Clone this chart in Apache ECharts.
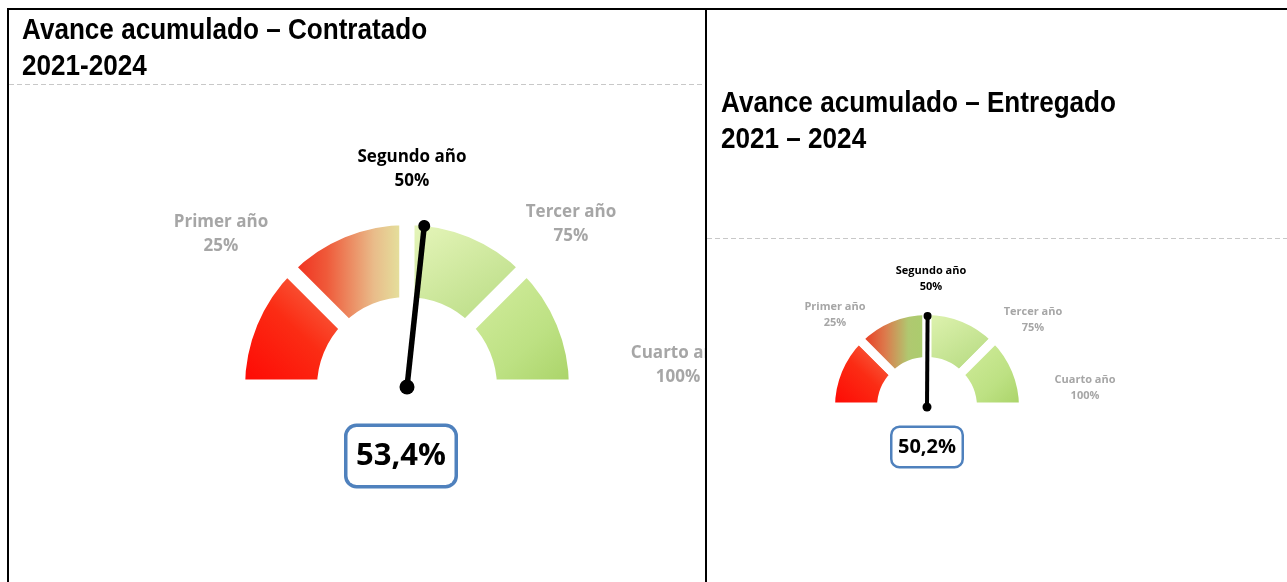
<!DOCTYPE html>
<html>
<head>
<meta charset="utf-8">
<title>Avance acumulado</title>
<script src="https://cdn.jsdelivr.net/npm/echarts@6/dist/echarts.min.js"></script>
<style>
    html, body { margin:0; padding:0; background:#fff; }
    body { width:1287px; height:582px; position:relative; overflow:hidden; }
    .ln { position:absolute; background:#000; }
    .panel { position:absolute; top:10px; height:572px; }
</style>
</head>
<body>
<!-- marco de la tabla -->
<div class="ln" style="left:7px; top:8px; width:1280px; height:2px;"></div>
<div class="ln" style="left:7px; top:8px; width:2px; height:574px;"></div>
<div class="ln" style="left:705px; top:8px; width:2px; height:574px;"></div>

<div id="chartLeft" class="panel" style="left:9px; width:696px;"></div>
<div id="chartRight" class="panel" style="left:707px; width:580px;"></div>

<script>
/* datos del velocimetro */
var tickNames = ['Primer año', 'Segundo año', 'Tercer año', 'Cuarto año'];
var tickPcts = [25, 50, 75, 100];
var segValues = [25, 25, 25, 25];      //cada año = 1/4
var avanceContratado = 53.4;
var avanceEntregado = 50.2;

var GRAY = '#a6a6a6';
var FONT = '"Open Sans", "Noto Sans", sans-serif';
var TITLE_FONT = '"Liberation Sans", Arial, sans-serif';

function toPct(v){
    return v.toFixed(1).replace('.', ',') + '%';
}

function grad(x, y, x2, y2, stops){
    var cs = [];
    for(var i = 0; i < stops.length; i++){
        cs.push({offset: stops[i][0], color: stops[i][1]});
    }
    return {type: 'linear', x: x, y: y, x2: x2, y2: y2, colorStops: cs};
}

function buildOption(c){
    var total = 0;
    var pieData = [];
    for(var i = 0; i < segValues.length; i++){
        total += segValues[i];
        pieData.push({name: tickNames[i], value: segValues[i], itemStyle: {color: c.colors[i]}});
    }
    //mitad inferior invisible
    pieData.push({name: '', value: total, itemStyle: {color: 'none', borderWidth: 0}});

    var graphic = [
        {
            type: 'line',
            shape: {x1: 0, y1: c.dashY, x2: c.width, y2: c.dashY},
            style: {stroke: '#c8c8c8', lineWidth: 1, lineDash: [5, 3]},
            silent: true
        },
        {
            // titulo (Arial Narrow en el original -> se estrecha)
            type: 'text',
            x: c.titlePos[0],
            y: c.titlePos[1],
            scaleX: 0.9,
            silent: true,
            style: {
                text: c.title,
                fontFamily: TITLE_FONT,
                fontWeight: 'bold',
                fontSize: 29,
                lineHeight: 36,
                verticalAlign: 'top',
                fill: '#000'
            }
        }
    ];
    for(var j = 0; j < tickNames.length; j++){
        graphic.push({
            type: 'text',
            x: c.labelPos[j][0],
            y: c.labelPos[j][1],
            silent: true,
            style: {
                text: tickNames[j] + '\n' + tickPcts[j] + '%',
                align: 'center',
                verticalAlign: 'middle',
                fontFamily: FONT,
                fontWeight: 'bold',
                fontSize: c.labelSize,
                lineHeight: c.labelLH,
                fill: tickPcts[j] === 50 ? '#000' : GRAY
            }
        });
    }

    return {
        animation: false,
        graphic: graphic,
        series: [
            {
                type: 'pie',
                silent: true,
                z: 1,
                center: c.center,
                radius: [c.rIn - c.gap / 2, c.rOut + c.gap / 2],
                startAngle: 180,
                label: {show: false},
                labelLine: {show: false},
                emphasis: {disabled: true},
                itemStyle: {borderColor: '#fff', borderWidth: c.gap},
                data: pieData
            },
            {
                // aguja
                type: 'gauge',
                silent: true,
                z: 5,
                center: c.center,
                radius: c.needleLen,
                startAngle: 180,
                endAngle: 0,
                min: 0,
                max: 100,
                splitNumber: 4,
                axisLine: {show: false},
                axisTick: {show: false},
                splitLine: {show: false},
                axisLabel: {show: false},
                title: {show: false},
                pointer: {icon: 'rect', width: c.needleW, length: '100%', itemStyle: {color: '#000'}},
                anchor: {show: true, showAbove: true, size: c.anchor, itemStyle: {color: '#000'}},
                detail: {
                    formatter: toPct,
                    offsetCenter: c.boxOffset,
                    width: c.box[0],
                    height: c.box[1],
                    lineHeight: c.box[1],
                    padding: 0,
                    backgroundColor: '#fff',
                    borderColor: '#4f81bd',
                    borderWidth: c.boxBorder,
                    borderRadius: c.boxRadius,
                    fontFamily: FONT,
                    fontWeight: 'bold',
                    fontSize: c.valueSize,
                    color: '#000'
                },
                data: [{value: c.value}]
            },
            {
                // punta de la aguja
                type: 'gauge',
                silent: true,
                z: 6,
                center: c.center,
                radius: c.needleLen,
                startAngle: 180,
                endAngle: 0,
                min: 0,
                max: 100,
                axisLine: {show: false},
                axisTick: {show: false},
                splitLine: {show: false},
                axisLabel: {show: false},
                title: {show: false},
                detail: {show: false},
                pointer: {icon: 'circle', width: c.tip, length: c.tip, offsetCenter: [0, -(c.needleLen - c.tip / 2)], itemStyle: {color: '#000'}},
                data: [{value: c.value}]
            }
        ]
    };
}

var leftColors = [
    grad(0, 1, 1, 0, [[0, '#ff0000'], [0.5, '#fb2c14'], [1, '#f48a62']]),
    grad(0, 0, 1, 0, [[0, '#f21a10'], [0.35, '#ef5a3a'], [0.7, '#e9bc8a'], [1, '#e2f3a6']]),
    grad(0, 0, 0.6, 1, [[0, '#ecf9c2'], [1, '#b9dc84']]),
    grad(0, 0, 1, 1, [[0, '#d9f0a6'], [0.6, '#bde183'], [1, '#a4cf60']])
];
var rightColors = [
    grad(0, 1, 1, 0, [[0, '#ff0000'], [0.5, '#fb2c14'], [1, '#f48a62']]),
    grad(0, 0, 1, 0, [[0, '#f0200f'], [0.4, '#dc7a4c'], [0.7, '#b0c870'], [1, '#a8cf6c']]),
    grad(0, 0, 0.6, 1, [[0, '#e4f6b6'], [1, '#b5da80']]),
    grad(0, 0, 1, 1, [[0, '#d6efa2'], [0.6, '#bde183'], [1, '#a4cf60']])
];

var chartL = echarts.init(document.getElementById('chartLeft'));
chartL.setOption(buildOption({
    width: 696,
    title: 'Avance acumulado – Contratado\n2021-2024',
    titlePos: [13, 3],
    dashY: 74.5,
    center: [398, 377],
    rIn: 90, rOut: 162, gap: 15,
    needleLen: 162, needleW: 5.5, anchor: 15, tip: 12,
    colors: leftColors,
    labelPos: [[212, 224], [403, 159], [562, 214], [669, 355]],
    labelSize: 17, labelLH: 24,
    value: avanceContratado,
    boxOffset: [-6, 69], box: [107, 58], boxBorder: 3.5, boxRadius: 9, valueSize: 31
}));

var chartR = echarts.init(document.getElementById('chartRight'));
chartR.setOption(buildOption({
    width: 580,
    title: 'Avance acumulado – Entregado\n2021 – 2024',
    titlePos: [14, 76],
    dashY: 228.5,
    center: [220, 397],
    rIn: 50, rOut: 92, gap: 9,
    needleLen: 91, needleW: 4, anchor: 9, tip: 8,
    colors: rightColors,
    labelPos: [[128, 305], [224, 269], [326, 310], [378, 378]],
    labelSize: 11, labelLH: 16,
    value: avanceEntregado,
    boxOffset: [0, 40], box: [69, 38], boxBorder: 2.5, boxRadius: 7, valueSize: 20
}));
</script>
</body>
</html>
